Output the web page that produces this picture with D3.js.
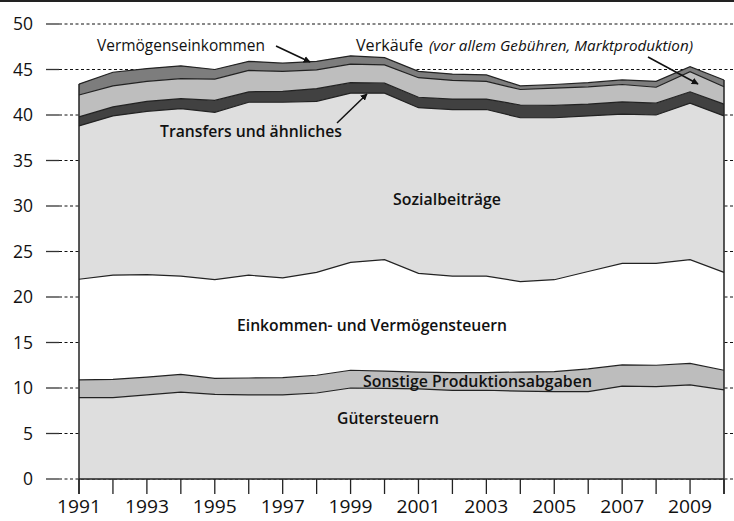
<!DOCTYPE html>
<html><head><meta charset="utf-8">
<script src="https://cdn.jsdelivr.net/npm/d3@7"></script>
<style>
html,body{margin:0;padding:0;background:#fff;}
svg{display:block;}
</style></head>
<body>
<svg id="chart" width="734" height="521"></svg>
<script>
// ---------- DATA ----------
const years = [1991,1992,1993,1994,1995,1996,1997,1998,1999,2000,2001,2002,2003,2004,2005,2006,2007,2008,2009,2010];
const guetersteuern        = [8.95,8.95,9.25,9.55,9.3,9.25,9.25,9.45,10.0,9.95,9.9,9.75,9.75,9.65,9.6,9.6,10.2,10.15,10.35,9.8];
const sonstigeProduktion   = [1.95,2.0,1.95,1.95,1.75,1.85,1.9,1.95,1.95,1.9,1.85,1.95,1.95,2.1,2.2,2.5,2.35,2.35,2.35,2.15];
const einkommenVermoegen   = [11.05,11.45,11.25,10.8,10.85,11.3,10.95,11.3,11.85,12.25,10.85,10.6,10.6,9.95,10.1,10.7,11.15,11.2,11.4,10.75];
const sozialbeitraege      = [16.85,17.5,17.95,18.4,18.4,19.0,19.3,18.8,18.6,18.3,18.2,18.3,18.3,18.0,17.8,17.1,16.4,16.3,17.2,17.2];
const transfers            = [1.0,1.0,1.1,1.1,1.3,1.15,1.2,1.4,1.15,1.1,1.15,1.15,1.15,1.4,1.35,1.3,1.35,1.3,1.25,1.3];
const verkaeufe            = [2.4,2.3,2.2,2.2,2.35,2.35,2.2,2.05,2.05,2.0,2.15,2.05,1.95,1.7,1.9,1.9,1.9,1.75,2.2,1.9];
const vermoegenseinkommen  = [1.2,1.5,1.4,1.4,1.05,1.0,0.9,0.95,0.9,0.8,0.7,0.7,0.7,0.4,0.4,0.45,0.5,0.65,0.55,0.75];
const yTicks = [0,5,10,15,20,25,30,35,40,45,50];
const xTickLabels = ["1991","1993","1995","1997","1999","2001","2003","2005","2007","2009"];
const seriesKeys = ["guetersteuern","sonstige","einkommen","sozial","transfers","verkaeufe","vermoegen"];
const seriesColors = ["#dedede","#bdbdbd","#ffffff","#dedede","#414141","#bebebe","#7d7d7d"];

// ---------- BUILD TABLE ----------
const table = years.map((yr,i)=>({
  year: yr,
  guetersteuern: guetersteuern[i],
  sonstige: sonstigeProduktion[i],
  einkommen: einkommenVermoegen[i],
  sozial: sozialbeitraege[i],
  transfers: transfers[i],
  verkaeufe: verkaeufe[i],
  vermoegen: vermoegenseinkommen[i]
}));

const svg = d3.select("#chart");
const x = d3.scaleLinear().domain([1991,2010]).range([79,724]);
const y = d3.scaleLinear().domain([0,50]).range([479,24]);

// top border
svg.append("line").attr("x1",0).attr("x2",734).attr("y1",1).attr("y2",1)
  .attr("stroke","#222").attr("stroke-width",2);

// gridlines (dashed) + solid tick stubs
const grid = svg.append("g");
yTicks.forEach(t=>{
  grid.append("line").attr("x1",59).attr("x2",734).attr("y1",y(t)).attr("y2",y(t))
    .attr("stroke","#111").attr("stroke-width",1).attr("stroke-dasharray","3,2.5");
  grid.append("line").attr("x1",46).attr("x2",59).attr("y1",y(t)).attr("y2",y(t))
    .attr("stroke","#333").attr("stroke-width",1.3);
  grid.append("text").attr("x",33).attr("y",y(t)).attr("dy","0.36em")
    .attr("text-anchor","end").attr("font-family","Open Sans").attr("font-size",17.5)
    .attr("fill","#111").text(t);
});

// stacked areas
const stack = d3.stack().keys(seriesKeys);
const layers = stack(table);
const area = d3.area().x(d=>x(d.data.year)).y0(d=>y(d[0])).y1(d=>y(d[1]));
const line = d3.line().x(d=>x(d.data.year)).y(d=>y(d[1]));
svg.append("g").selectAll("path").data(layers).join("path")
  .attr("d",area).attr("fill",(d,i)=>seriesColors[i]).attr("stroke","none");
svg.append("g").selectAll("path").data(layers).join("path")
  .attr("d",line).attr("fill","none").attr("stroke","#222").attr("stroke-width",1.2);

// axes: baseline, vertical edges, ticks
const topLayer = layers[layers.length-1];
svg.append("line").attr("x1",x(1991)).attr("x2",x(2010)).attr("y1",y(0)).attr("y2",y(0))
  .attr("stroke","#222").attr("stroke-width",1.5);
svg.append("line").attr("x1",x(1991)).attr("x2",x(1991)).attr("y1",y(topLayer[0][1])).attr("y2",y(0)+15)
  .attr("stroke","#222").attr("stroke-width",1.5);
svg.append("line").attr("x1",x(2010)).attr("x2",x(2010)).attr("y1",y(topLayer[topLayer.length-1][1])).attr("y2",y(0)+15)
  .attr("stroke","#222").attr("stroke-width",1.5);
years.forEach(yr=>{
  svg.append("line").attr("x1",x(yr)).attr("x2",x(yr)).attr("y1",y(0)).attr("y2",y(0)+15)
    .attr("stroke","#222").attr("stroke-width",1.3);
});
xTickLabels.forEach(l=>{
  svg.append("text").attr("x",x(+l)).attr("y",513).attr("text-anchor","middle")
    .attr("font-family","Open Sans").attr("font-size",17.5).attr("fill","#111")
    .attr("textLength",44).attr("lengthAdjust","spacingAndGlyphs").text(l);
});

// arrow marker
svg.append("defs").append("marker").attr("id","arr").attr("viewBox","0 0 10 10")
  .attr("refX",9).attr("refY",5).attr("markerWidth",7).attr("markerHeight",7)
  .attr("orient","auto").attr("markerUnits","userSpaceOnUse")
  .append("path").attr("d","M0,0 L10,5 L0,10 z").attr("fill","#111");
function arrow(x1,y1,x2,y2){
  svg.append("line").attr("x1",x1).attr("y1",y1).attr("x2",x2).attr("y2",y2)
    .attr("stroke","#111").attr("stroke-width",1.5).attr("marker-end","url(#arr)");
}
arrow(276,46,310,62);
arrow(337,123,367,94);
arrow(648,57,698,84);

// labels, squeezed to target widths at a constant size
function label(txt, xs, yb, w, weight, style, size){
  return svg.append("text").attr("x",xs).attr("y",yb)
    .attr("font-family","Open Sans").attr("font-weight",weight).attr("font-style",style||"normal")
    .attr("font-size",size||16).attr("fill","#111")
    .attr("textLength",w).attr("lengthAdjust","spacingAndGlyphs").text(txt);
}
label("Vermögenseinkommen",97,51,168,400,"normal",16.5);
label("Verkäufe",356,51,67,400,"normal",16.5);
label("(vor allem Gebühren, Marktproduktion)",429,51,264,400,"italic",15);
label("Transfers und ähnliches",160,137,182,600,"normal",16.5);
label("Sozialbeiträge",393,205,108,600,"normal",16.5);
label("Einkommen- und Vermögensteuern",237,331,270,600,"normal",16.5);
label("Sonstige Produktionsabgaben",363,387,229,600,"normal",16.5);
label("Gütersteuern",337,424,102,600,"normal",16.5);
</script>
</body></html>
